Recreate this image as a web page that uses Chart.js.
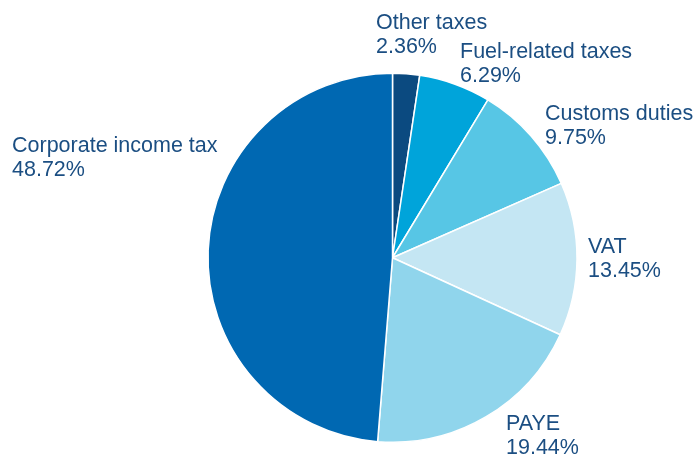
<!DOCTYPE html>
<html>
<head>
<meta charset="utf-8">
<script src="https://cdn.jsdelivr.net/npm/chart.js@4"></script>
<style>
    html, body { margin: 0; padding: 0; background: #fff; }
    #wrap { width: 700px; height: 456px; }
</style>
</head>
<body>
<div id="wrap"><canvas id="taxChart" width="700" height="456"></canvas></div>
<script>
// Tax revenue split, clockwise from 12 o'clock
const categories = ['Other taxes', 'Fuel-related taxes', 'Customs duties', 'VAT', 'PAYE', 'Corporate income tax'];
const shares = [2.36, 6.29, 9.75, 13.45, 19.44, 48.72];
const sliceColors = ['#0b4a80', '#00a4da', '#57c6e5', '#c4e6f3', '#90d5ec', '#0068b2'];

// Where each two-line label sits (left edge, first baseline)
const labelAnchors = [
    [376, 29], [460, 58], [545, 120], [588, 253], [506, 430], [12, 152]
];

const labelPlugin = {
    id: 'sliceLabels',
    afterDraw(chart) {
        const ctx = chart.ctx;
        const values = chart.data.datasets[0].data;
        ctx.save();
        ctx.font = '21.5px "Liberation Sans", Arial, sans-serif';
        ctx.fillStyle = '#1b4e82';
        ctx.textAlign = 'left';
        ctx.textBaseline = 'alphabetic';
        chart.data.labels.forEach(function(label, i) {
            const [x, y] = labelAnchors[i];
            ctx.fillText(label, x, y);
            ctx.fillText(values[i].toFixed(2) + '%', x, y + 23.5);
        });
        ctx.restore();
    }
};

new Chart(document.getElementById('taxChart'), {
    type: 'pie',
    data: {
        labels: categories,
        datasets: [{
            data: shares,
            backgroundColor: sliceColors,
            borderColor: '#ffffff',
            borderWidth: 1.5
        }]
    },
    options: {
        responsive: false,
        animation: false,
        layout: { padding: { left: 85, right: 0, top: 72.5, bottom: 13 } },
        plugins: {
            legend: { display: false },
            tooltip: { enabled: false }
        }
    },
    plugins: [labelPlugin]
});
</script>
</body>
</html>
